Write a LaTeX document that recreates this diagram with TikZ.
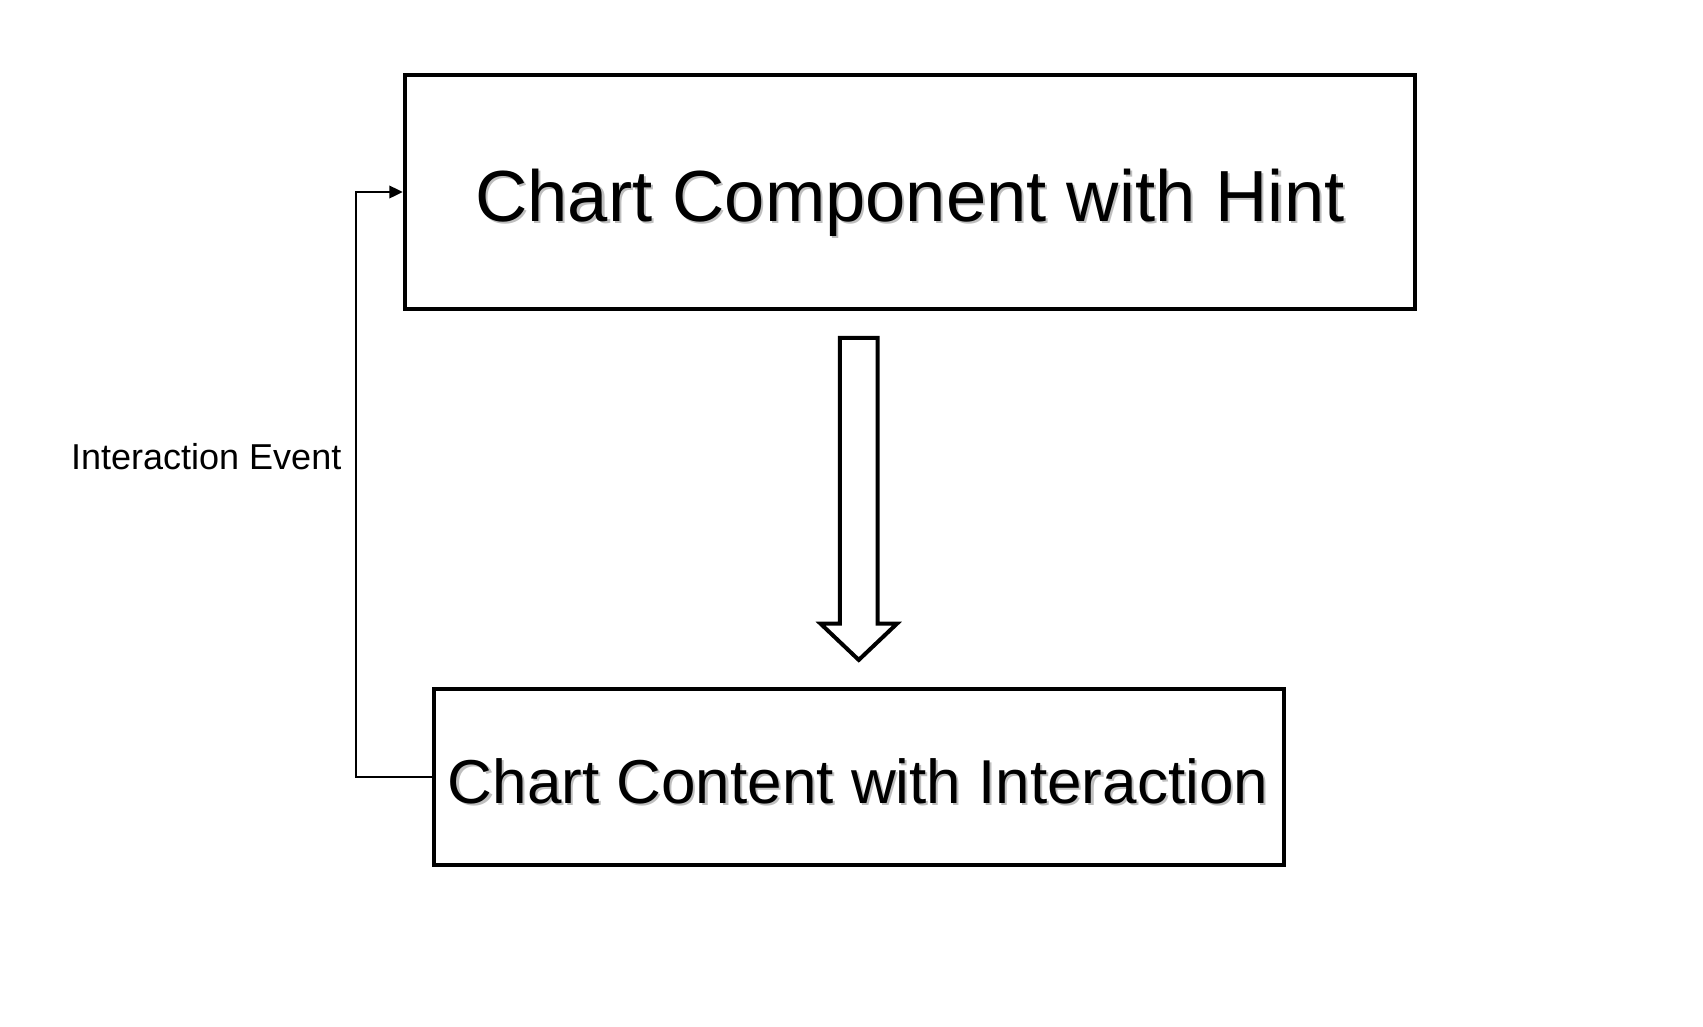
\documentclass[tikz,border=0pt]{standalone}
\usepackage{fontspec}
\setmainfont{Liberation Sans}
\usetikzlibrary{arrows.meta, positioning, shapes.arrows}

\newcommand{\shadowed}[1]{\makebox[0pt][l]{\hspace{1.6pt}\raisebox{-1.6pt}{\color{black!25}#1}}#1}

\begin{document}
\begin{tikzpicture}[
  x=0.75pt, y=-0.75pt,
  every node/.style={font=\rmfamily},
  blk/.style={draw=black, line width=3pt, align=center, inner sep=0pt, text depth=0pt},
  feedback/.style={draw=black, line width=1pt, -{Triangle[length=10pt, width=9.5pt]}},
  bigarrow/.style={draw=black, line width=3pt, single arrow, inner xsep=0pt, inner ysep=12.6pt,
                   minimum height=241.5pt, single arrow head extend=14.5pt, single arrow tip angle=93}
]

\useasboundingbox (0,0) rectangle (1703,1026);

\node[blk, minimum width=757.9pt, minimum height=175.5pt] (chart) at (910,192) {};
\node[font=\fontsize{54.3}{65}\selectfont, text depth=0pt] (charttxt) at (910,195) {\shadowed{Chart Component with Hint}};
\node[blk, minimum width=637.5pt, minimum height=131.6pt] (content) at (859,777) {};
\node[font=\fontsize{46.5}{56}\selectfont, text depth=0pt] (contenttxt) at (858,781) {\shadowed{Chart Content with Interaction}};

% hint flows down into the content
\node[bigarrow, rotate=-90] (flow) at (858.75,490) {};

\draw[feedback] (content.west) -- ++(-76,0) |- (chart.west)
  node[pos=0.274, left=10.5pt, inner sep=0pt, font=\fontsize{27}{32}\selectfont] (evt) {Interaction Event};

\end{tikzpicture}
\end{document}
